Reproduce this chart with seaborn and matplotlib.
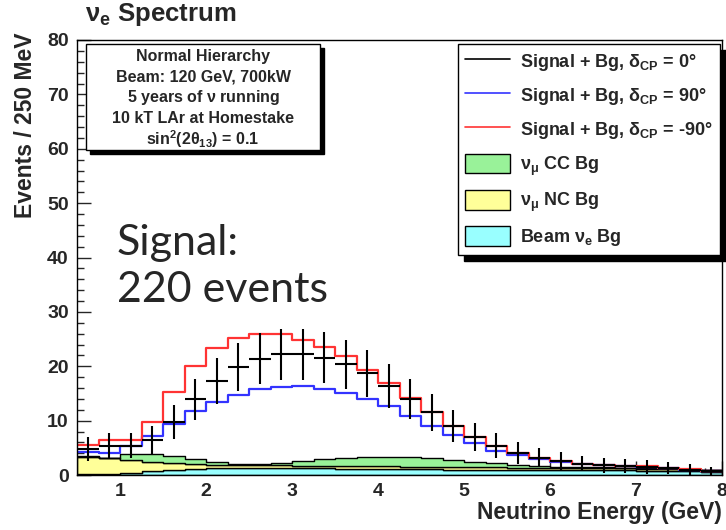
import numpy as np
import pandas as pd
import matplotlib
matplotlib.use("Agg")
import matplotlib.pyplot as plt
import seaborn as sns
from matplotlib.lines import Line2D
from matplotlib.patches import Patch, Rectangle

# ---------------- data (events per 250 MeV bin) ----------------
e_min, e_max, bin_width = 0.5, 8.0, 0.25

sig_bg_dcp0 = [4.8, 5.4, 5.4, 6.4, 9.8, 13.9, 17.3, 19.9, 21.4, 22.2,
               22.2, 21.6, 20.4, 18.7, 16.4, 14.0, 11.5, 9.0, 7.0, 5.4,
               4.1, 3.2, 2.6, 2.1, 1.8, 1.7, 1.5, 1.3, 1.0, 0.7]
sig_bg_dcp90 = [4.2, 4.0, 5.3, 7.2, 9.4, 11.8, 13.5, 14.8, 15.8, 16.2,
                16.4, 15.9, 15.1, 14.0, 12.6, 10.8, 9.0, 7.4, 5.8, 4.5,
                3.6, 2.9, 2.3, 2.0, 1.8, 1.7, 1.5, 1.3, 1.0, 0.7]
sig_bg_dcpm90 = [5.5, 6.4, 6.4, 9.8, 15.3, 20.1, 23.4, 25.2, 26.0, 25.9,
                 24.9, 23.5, 21.8, 19.4, 17.0, 14.1, 11.5, 9.0, 7.0, 5.4,
                 4.1, 3.2, 2.6, 2.1, 1.9, 1.7, 1.6, 1.35, 1.05, 0.8]
numu_cc_bg = [0.1, 0.1, 1.05, 1.45, 1.35, 0.9, 0.4, 0.3, 0.35, 0.45,
              0.9, 1.3, 1.55, 1.65, 1.8, 1.85, 1.7, 1.35, 1.05, 0.75,
              0.5, 0.35, 0.2, 0.2, 0.15, 0.15, 0.15, 0.15, 0.1, 0.1]
numu_nc_bg = [3.2, 2.9, 2.45, 1.65, 1.15, 0.85, 0.7, 0.55, 0.5, 0.5,
              0.5, 0.5, 0.5, 0.5, 0.5, 0.35, 0.35, 0.4, 0.4, 0.4,
              0.35, 0.35, 0.35, 0.35, 0.35, 0.35, 0.35, 0.3, 0.3, 0.25]
beam_nue_bg = [0.2, 0.2, 0.4, 0.8, 1.0, 1.15, 1.2, 1.25, 1.25, 1.25,
               1.2, 1.2, 1.15, 1.15, 1.1, 1.05, 1.05, 1.0, 1.0, 1.0,
               1.0, 0.95, 0.95, 0.9, 0.9, 0.85, 0.8, 0.75, 0.7, 0.6]

legend_labels = [r"Signal + Bg, $\delta_{CP}$ = 0°",
                 r"Signal + Bg, $\delta_{CP}$ = 90°",
                 r"Signal + Bg, $\delta_{CP}$ = -90°",
                 r"$\nu_{\mu}$ CC Bg",
                 r"$\nu_{\mu}$ NC Bg",
                 r"Beam $\nu_{e}$ Bg"]
info_lines = ["Normal Hierarchy", "Beam: 120 GeV, 700kW",
              r"5 years of $\nu$ running", "10 kT LAr at Homestake",
              r"sin$^{2}$(2$\theta_{13}$) = 0.1"]
x_ticks = [1, 2, 3, 4, 5, 6, 7, 8]
y_ticks = [0, 10, 20, 30, 40, 50, 60, 70, 80]

# ---------------- style ----------------
sns.set_style("ticks")
plt.rcParams["font.family"] = ["Liberation Sans", "DejaVu Sans"]
plt.rcParams["font.weight"] = "bold"
plt.rcParams["mathtext.fontset"] = "custom"
plt.rcParams["mathtext.default"] = "regular"

W, H = 726, 530
fig = plt.figure(figsize=(W / 100, H / 100), dpi=100)
ax = fig.add_axes([77 / W, 55 / H, (722 - 77) / W, (475 - 40) / H])

def fx(px):
    return px / W

def fy(py):
    return 1 - py / H

edges = np.arange(e_min, e_max + bin_width / 2, bin_width)
centers = (edges[:-1] + edges[1:]) / 2
bin_list = [float(v) for v in edges]

c_cc, c_nc, c_nue = "#99F299", "#FFFF99", "#99FFFF"
c_red, c_blue = "#FF3333", "#3333FF"

bg = pd.DataFrame({
    "E": np.concatenate([centers] * 3),
    "n": numu_cc_bg + numu_nc_bg + beam_nue_bg,
    "comp": ["cc"] * 30 + ["nc"] * 30 + ["nue"] * 30,
})
sns.histplot(data=bg, x="E", weights="n", hue="comp",
             hue_order=["cc", "nc", "nue"], multiple="stack",
             bins=bin_list, element="step", alpha=1,
             palette={"cc": c_cc, "nc": c_nc, "nue": c_nue},
             edgecolor="black", linewidth=1.0, legend=False, ax=ax)

sig = pd.DataFrame({"E": centers, "d90": sig_bg_dcp90, "dm90": sig_bg_dcpm90})
sns.histplot(data=sig, x="E", weights="d90", bins=bin_list, element="step",
             fill=False, color=c_blue, linewidth=1.6, ax=ax)
sns.histplot(data=sig, x="E", weights="dm90", bins=bin_list, element="step",
             fill=False, color=c_red, linewidth=1.6, ax=ax)

ax.errorbar(centers, sig_bg_dcp0, yerr=np.sqrt(sig_bg_dcp0),
            xerr=bin_width / 2, fmt="none", ecolor="black",
            elinewidth=1.5, capsize=0, zorder=5)

ax.set_xlim(e_min, e_max)
ax.set_ylim(0, 80)
ax.set_xticks(x_ticks)
ax.set_yticks(y_ticks)
ax.set_xticks(np.arange(0.6, 8.0, 0.2), minor=True)
ax.set_yticks(np.arange(0, 81, 2), minor=True)
ax.tick_params(which="both", direction="in", top=False, right=False,
               labelsize=14, width=1)
ax.tick_params(which="major", length=10, pad=6)
ax.tick_params(which="minor", length=5)
for lab in ax.get_xticklabels() + ax.get_yticklabels():
    lab.set_fontweight("bold")
ax.set_xlabel("")
ax.set_ylabel("")
for s in ax.spines.values():
    s.set_linewidth(1.0)
    s.set_color("black")

fig.text(fx(722), fy(513), "Neutrino Energy (GeV)", ha="right", va="center",
         fontsize=16.5, fontweight="bold")
fig.text(fx(26), fy(32), "Events / 250 MeV", ha="center", va="top",
         rotation=90, fontsize=16.5, fontweight="bold")
fig.text(fx(85), fy(15), r"$\nu_{e}$ Spectrum", ha="left", va="center",
         fontsize=18.5, fontweight="bold")

fig.text(fx(117), fy(255), "Signal:", ha="left", va="baseline",
         fontsize=31, family="Lato", fontweight="normal")
fig.text(fx(117), fy(302), "220 events", ha="left", va="baseline",
         fontsize=31, family="Lato", fontweight="normal")

# info box with shadow
bx0, by0, bx1, by1 = 86, 44, 320, 150
fig.patches.append(Rectangle((fx(bx0 + 4), fy(by1 + 4)), (bx1 - bx0) / W,
                             (by1 - by0) / H, transform=fig.transFigure,
                             facecolor="black", edgecolor="black", zorder=10))
fig.patches.append(Rectangle((fx(bx0), fy(by1)), (bx1 - bx0) / W,
                             (by1 - by0) / H, transform=fig.transFigure,
                             facecolor="white", edgecolor="black", lw=1,
                             zorder=11))
for i, t in enumerate(info_lines):
    fig.text(fx((bx0 + bx1) / 2), fy(56 + 20.7 * i), t, ha="center",
             va="center", fontsize=11.5, fontweight="bold", zorder=12)

handles = [Line2D([], [], color="black", lw=1.2),
           Line2D([], [], color=c_blue, lw=1.2),
           Line2D([], [], color=c_red, lw=1.2),
           Patch(facecolor=c_cc, edgecolor="black", lw=1),
           Patch(facecolor=c_nc, edgecolor="black", lw=1),
           Patch(facecolor=c_nue, edgecolor="black", lw=1)]
leg = fig.legend(handles, legend_labels, loc="upper right",
                 bbox_to_anchor=(fx(720), fy(44)), bbox_transform=fig.transFigure,
                 prop=dict(family="Liberation Sans", weight="bold", size=13),
                 frameon=True, fancybox=False, edgecolor="black", framealpha=1,
                 handlelength=2.5, handleheight=1.3, labelspacing=0.68,
                 borderpad=0.4, handletextpad=0.55, borderaxespad=0,
                 shadow={"color": "black", "alpha": 1, "ox": 4, "oy": -4})
leg.get_frame().set_linewidth(1.0)

fig.savefig("out.png", dpi=100)
